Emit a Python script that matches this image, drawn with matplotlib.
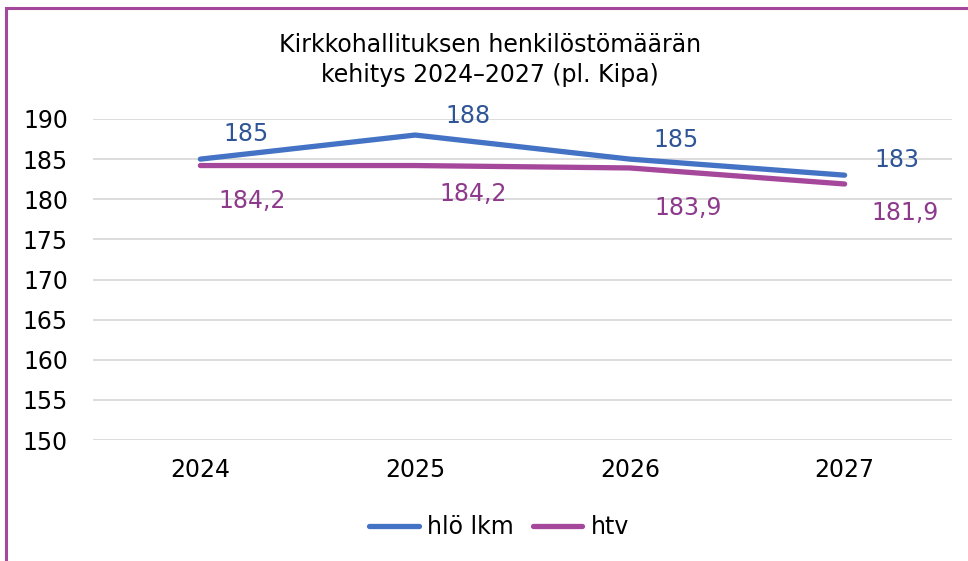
import matplotlib.pyplot as plt
from matplotlib.patches import Rectangle

years = ['2024', '2025', '2026', '2027']
hlo_lkm = [185, 188, 185, 183]
htv = [184.2, 184.2, 183.9, 181.9]
hlo_labels = ['185', '188', '185', '183']
htv_labels = ['184,2', '184,2', '183,9', '181,9']

blue = '#4472C4'
purple = '#A5479A'
blue_txt = '#2F5597'
purple_txt = '#8E3A8C'

plt.rcParams['font.family'] = 'DejaVu Sans'

fig = plt.figure(figsize=(9.68, 5.61), dpi=100)
ax = fig.add_axes([93 / 968, 1 - 440 / 561, 859 / 968, 321 / 561])

x = range(len(years))
ax.plot(x, hlo_lkm, color=blue, lw=3.8, solid_capstyle='round', label='hlö lkm', zorder=3)
ax.plot(x, htv, color=purple, lw=3.8, solid_capstyle='round', label='htv', zorder=3)

# data labels, offsets in pixels as in the original
hlo_off = [(46, 25), (53, 19), (46, 19), (52, 15)]
htv_off = [(52, -35), (58, -28), (58, -40), (60, -29)]
for i in x:
    ax.annotate(hlo_labels[i], (i, hlo_lkm[i]), xytext=hlo_off[i], textcoords='offset pixels',
                ha='center', va='center', color=blue_txt, fontsize=17)
    ax.annotate(htv_labels[i], (i, htv[i]), xytext=htv_off[i], textcoords='offset pixels',
                ha='center', va='center', color=purple_txt, fontsize=17)

ax.set_xlim(-0.5, 3.5)
ax.set_ylim(150, 190)
ax.set_yticks(range(150, 191, 5))
ax.set_xticks(list(x))
ax.set_xticklabels(years)
ax.grid(axis='y', color='#D9D9D9', lw=1.3)
ax.set_axisbelow(True)
for s in ax.spines.values():
    s.set_visible(False)
ax.tick_params(length=0, labelsize=17, colors='#000000')
ax.tick_params(axis='y', pad=18)
ax.tick_params(axis='x', pad=13)

fig.text(490 / 968, 1 - 45 / 561, 'Kirkkohallituksen henkilöstömäärän', ha='center', va='center', fontsize=17)
fig.text(490 / 968, 1 - 75 / 561, 'kehitys 2024–2027 (pl. Kipa)', ha='center', va='center', fontsize=17)

fig.legend(loc='center', bbox_to_anchor=(499 / 968, 1 - 527 / 561), ncol=2, frameon=False,
           fontsize=17, handlelength=2.1, columnspacing=0.8, handletextpad=0.35)

# chart frame (right and bottom edges fall outside the screenshot)
fig.patches.append(Rectangle((6 / 968, -0.1), 1.2, 1 - 8 / 561 + 0.1, transform=fig.transFigure,
                             fill=False, edgecolor=purple, lw=2.2))

fig.savefig('out.png', dpi=100)
